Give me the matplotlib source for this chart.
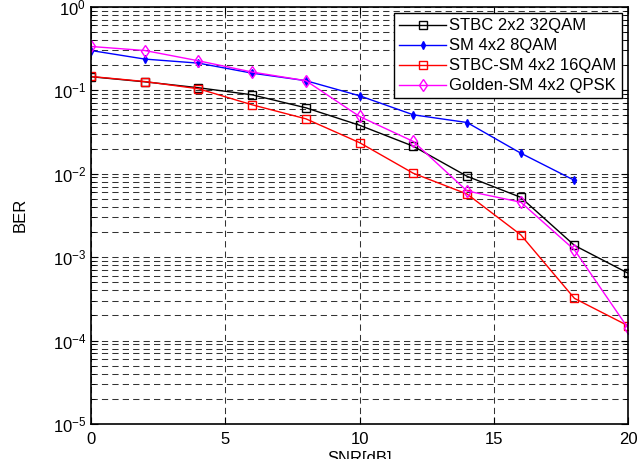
import matplotlib
matplotlib.use('Agg')
import matplotlib.pyplot as plt
from matplotlib.ticker import LogLocator, FixedLocator

plt.rcParams['font.family'] = ['Liberation Sans', 'DejaVu Sans']

snr = [0, 2, 4, 6, 8, 10, 12, 14, 16, 18, 20]
snr_sm = [0, 2, 4, 6, 8, 10, 12, 14, 16, 18]

ber_stbc = [0.145, 0.126, 0.107, 0.088, 0.0615, 0.038, 0.0213, 0.0093, 0.0052, 0.00138, 0.00064]
ber_sm = [0.299, 0.236, 0.211, 0.160, 0.130, 0.0857, 0.0507, 0.041, 0.0176, 0.0083]
ber_stbc_sm = [0.146, 0.127, 0.104, 0.0668, 0.0454, 0.0235, 0.0101, 0.0057, 0.00185, 0.00032, 0.00015]
ber_golden = [0.334, 0.299, 0.225, 0.165, 0.130, 0.0484, 0.0243, 0.0062, 0.00455, 0.00122, 0.00014]

fig = plt.figure(figsize=(6.41, 4.59), dpi=100)
ax = fig.add_axes([0.142, 0.0763, 0.838, 0.909])

ax.semilogy(snr, ber_stbc, color='black', marker='s', mfc='none', ms=6, lw=1, label='STBC 2x2 32QAM')
ax.semilogy(snr_sm, ber_sm, color='blue', marker='d', mfc='blue', ms=4, lw=1, label='SM 4x2 8QAM')
ax.semilogy(snr, ber_stbc_sm, color='red', marker='s', mfc='none', ms=6, lw=1, label='STBC-SM 4x2 16QAM')
ax.semilogy(snr, ber_golden, color='magenta', marker='d', mfc='none', ms=6, lw=1, label='Golden-SM 4x2 QPSK')

ax.set_xlim(0, 20)
ax.set_ylim(1e-5, 1)
ax.xaxis.set_major_locator(FixedLocator([0, 5, 10, 15, 20]))
ax.yaxis.set_major_locator(LogLocator(base=10, numticks=10))
ax.yaxis.set_minor_locator(LogLocator(base=10, subs=range(2, 10), numticks=20))

grid_kw = dict(color='#333333', linewidth=0.75, linestyle=(0, (6, 4)))
ax.grid(True, which='major', axis='both', **grid_kw)
ax.grid(True, which='minor', axis='y', **grid_kw)

ax.tick_params(which='both', direction='in', top=True, right=True, labelsize=12)
ax.tick_params(axis='x', pad=6)
ax.tick_params(which='major', length=5)
ax.tick_params(which='minor', length=3)
for s in ax.spines.values():
    s.set_linewidth(1.2)

ax.set_xlabel('SNR[dB]', fontsize=12, labelpad=3)
ax.set_ylabel('BER', fontsize=12, labelpad=18)

leg = ax.legend(loc='upper right', fontsize=12, fancybox=False, framealpha=1,
                edgecolor='black', handlelength=2.8, borderpad=0.3, labelspacing=0.3,
                handletextpad=0.2, borderaxespad=0.4)
leg.get_frame().set_linewidth(1)

fig.savefig('out.png', dpi=100)
